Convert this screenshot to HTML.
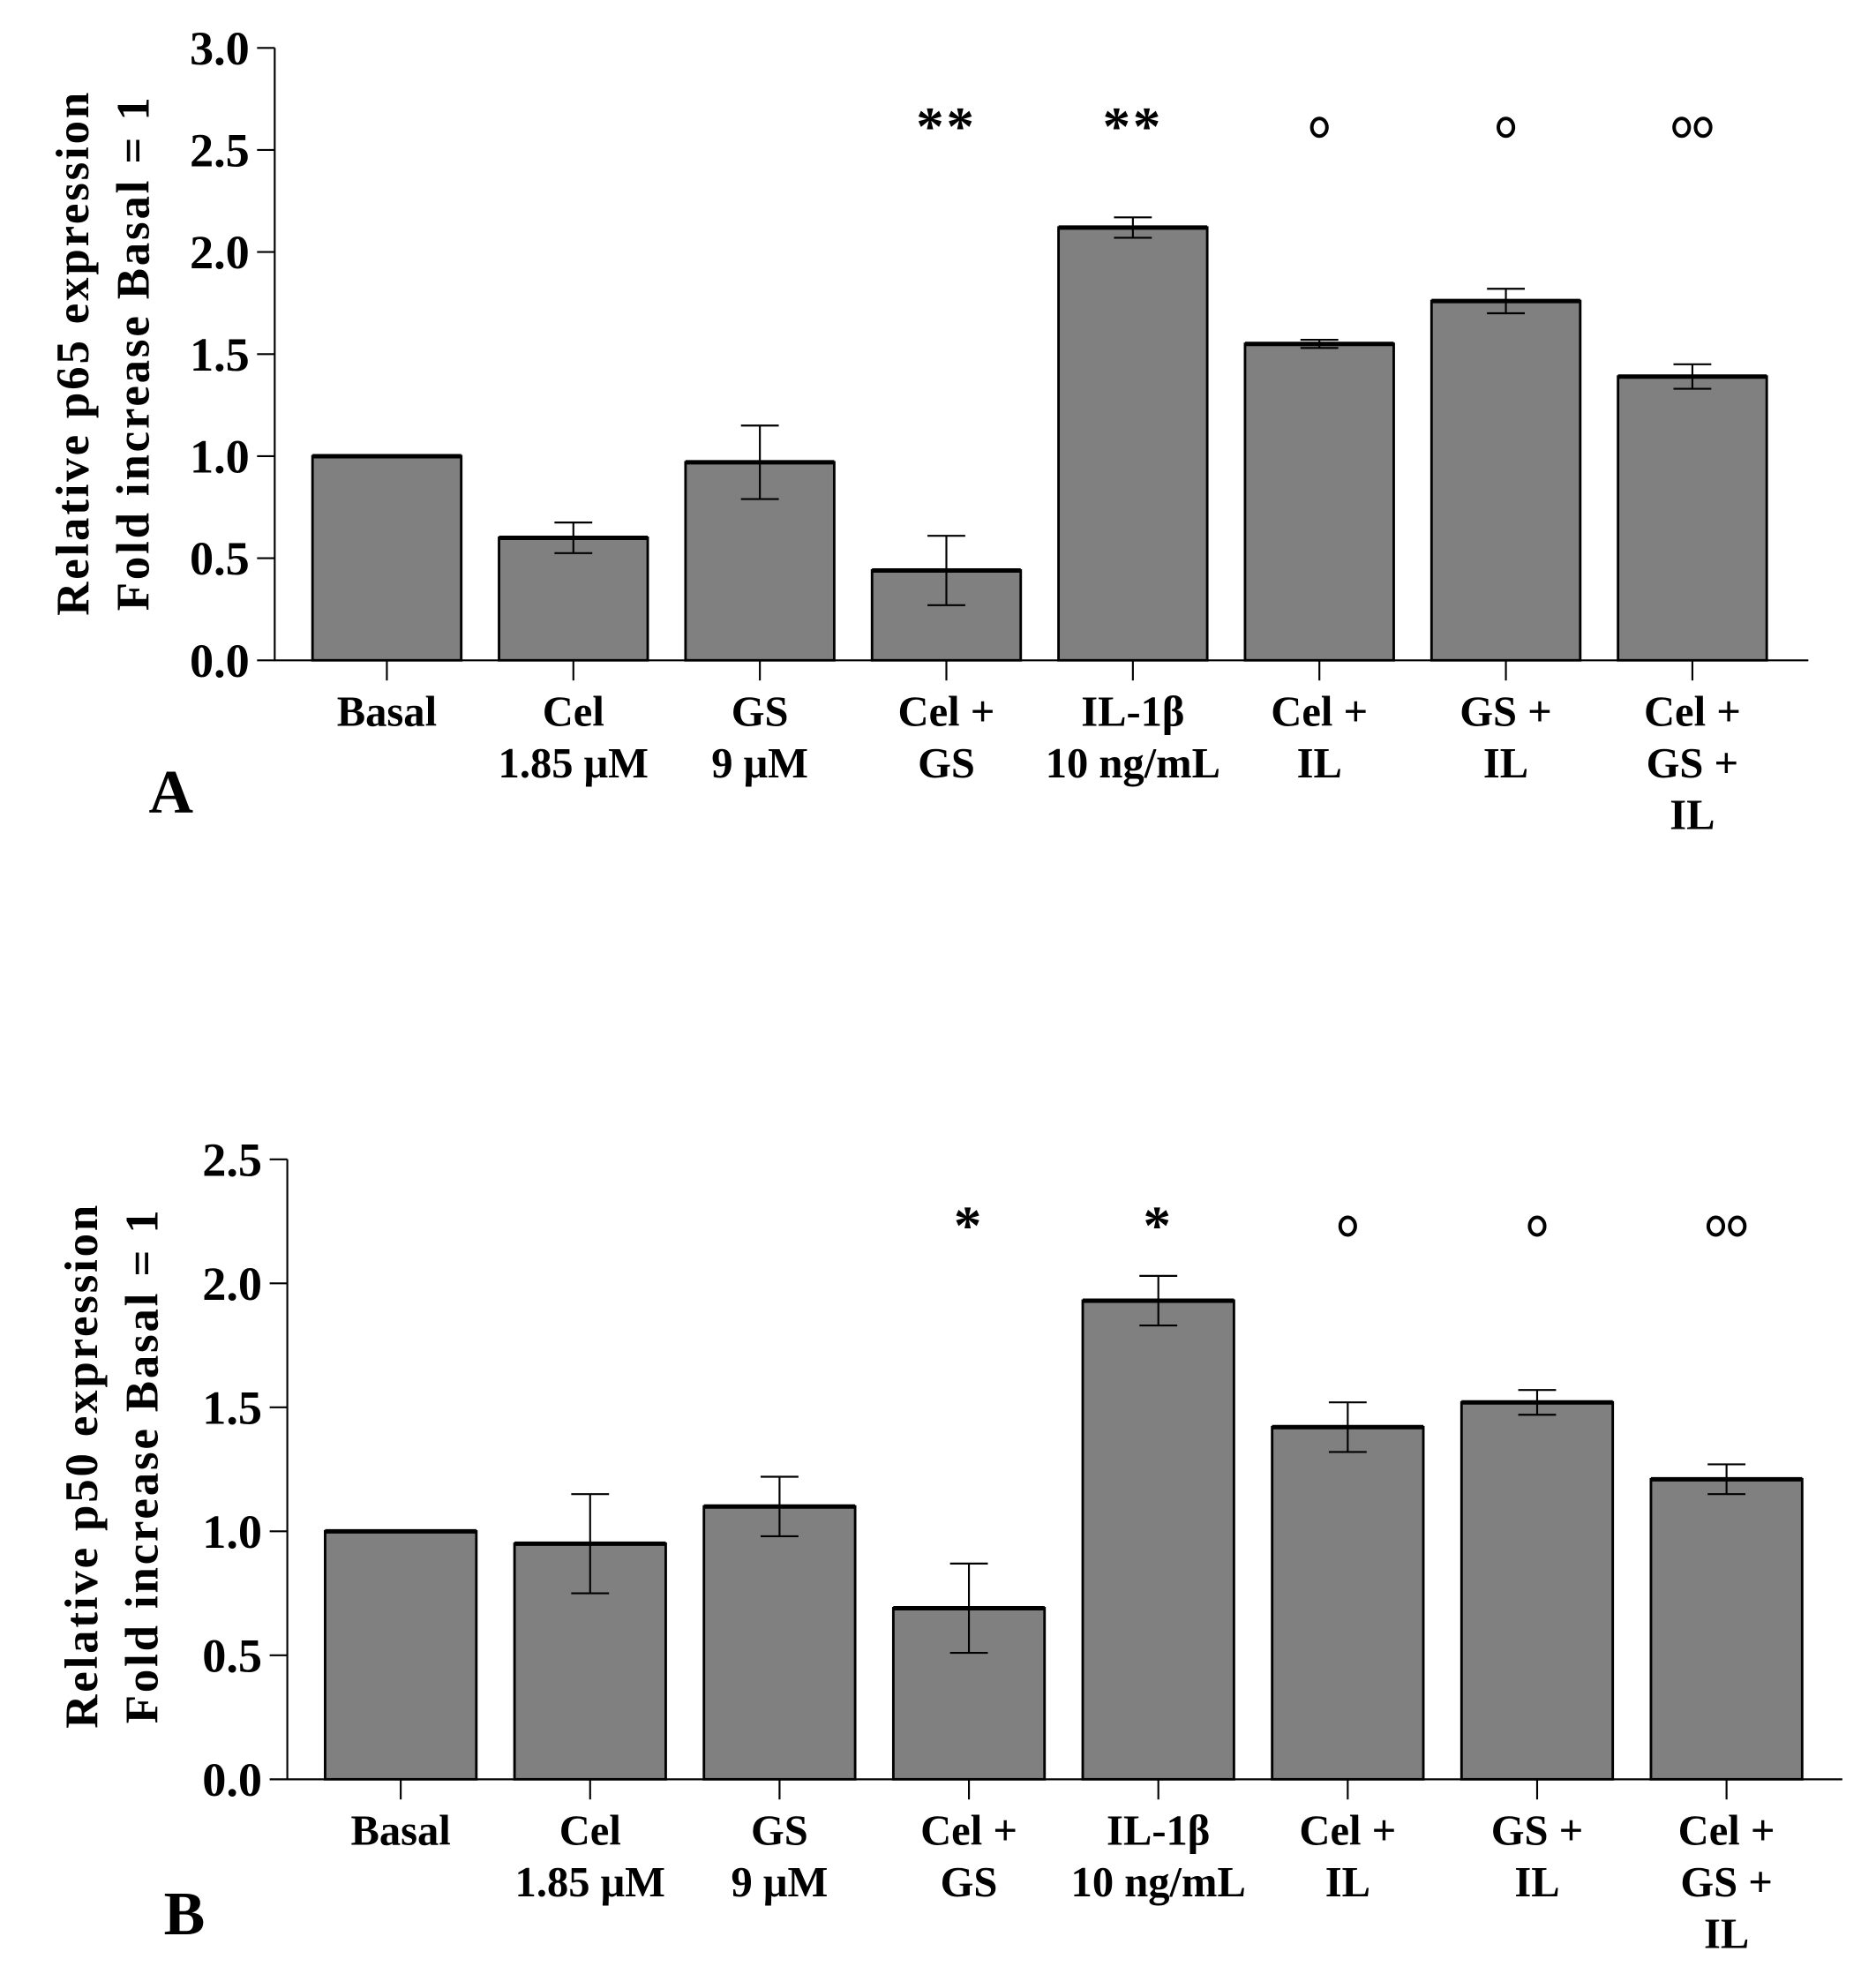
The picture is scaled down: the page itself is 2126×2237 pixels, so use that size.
<!DOCTYPE html>
<html><head><meta charset="utf-8"><style>
html,body{margin:0;padding:0;background:#fff}
svg{display:block}
text{font-family:"Liberation Serif",serif;font-weight:bold;fill:#000}
</style></head><body>
<svg id="fig" xmlns="http://www.w3.org/2000/svg" width="2126" height="2237" viewBox="0 0 1488.7 1566.5" preserveAspectRatio="none">
<rect x="0" y="0" width="1500" height="1600" fill="#fff"/>
</svg>
<script>
const categories = [["Basal"],["Cel","1.85 μM"],["GS","9 μM"],["Cel +","GS"],["IL-1β","10 ng/mL"],["Cel +","IL"],["GS +","IL"],["Cel +","GS +","IL"]];
const p65Values = [1.0, 0.6, 0.97, 0.44, 2.12, 1.55, 1.76, 1.39];
const p65Errors = [0, 0.075, 0.18, 0.17, 0.05, 0.02, 0.06, 0.06];
const p65Marks = ["", "", "", "**", "**", "o", "o", "oo"];
const p65Ticks = ["0.0","0.5","1.0","1.5","2.0","2.5","3.0"];
const p50Values = [1.0, 0.95, 1.1, 0.69, 1.93, 1.42, 1.52, 1.21];
const p50Errors = [0, 0.2, 0.12, 0.18, 0.1, 0.1, 0.05, 0.06];
const p50Marks = ["", "", "", "*", "*", "o", "o", "oo"];
const p50Ticks = ["0.0","0.5","1.0","1.5","2.0","2.5"];

const NS = "http://www.w3.org/2000/svg";
const svg = document.getElementById('fig');
function mk(tag, attrs, parent){const e=document.createElementNS(NS,tag);for(const k in attrs)e.setAttribute(k,attrs[k]);parent.appendChild(e);return e;}

function drawChart(cfg){
  const g = mk('g',{},svg);
  
  
  const ymax = parseFloat(cfg.ticks[cfg.ticks.length-1]);
  const y = v => cfg.bottom - (v/ymax)*(cfg.bottom-cfg.top);
  const n = cfg.values.length;
  const xl = i => cfg.firstLeft + i*cfg.pitch;
  for(let i=0;i<n;i++){
    const r = mk('rect',{x:xl(i),y:y(cfg.values[i]),width:cfg.barW,height:cfg.bottom-y(cfg.values[i]),fill:'#808080',stroke:'#000','stroke-width':2},g);
    
    
    mk('line',{x1:xl(i),x2:xl(i)+cfg.barW,y1:y(cfg.values[i]),y2:y(cfg.values[i]),stroke:'#000','stroke-width':3.5},g);
    const cx = xl(i)+cfg.barW/2;
    const e = cfg.errors[i];
    if(e>0){
      const eb = mk('path',{d:`M${cx} ${y(cfg.values[i]+e)}V${y(cfg.values[i]-e)}M${cx-15} ${y(cfg.values[i]+e)}H${cx+15}M${cx-15} ${y(cfg.values[i]-e)}H${cx+15}`,stroke:'#000','stroke-width':1.5,fill:'none'},g);
      
      
    }
    const m = cfg.marks[i];
    if(m && m.includes('*')){
      const t = mk('text',{x:cx,y:cfg.markY+14,'text-anchor':'middle','font-size':44,'letter-spacing':2,'font-weight':'normal'},g);
      t.textContent = m;
      
      
    } else if(m){
      const k = m.length;
      for(let j=0;j<k;j++){
        const c = mk('ellipse',{cx:cx+(j-(k-1)/2)*17,cy:cfg.markY,rx:6,ry:7,fill:'none',stroke:'#000','stroke-width':2.8},g);
        
        
      }
    }
    mk('line',{x1:cx,x2:cx,y1:cfg.bottom,y2:cfg.bottom+16,stroke:'#000','stroke-width':1.5},g);
    const lab = mk('text',{x:cx,'text-anchor':'middle','font-size':34},g);
    
    
    categories[i].forEach((s,k)=>{const ts=mk('tspan',{x:cx,y:cfg.labelY+k*41},lab);ts.textContent=s;});
  }
  const ax = mk('path',{d:`M${cfg.axisX} ${cfg.top}V${cfg.bottom}H${cfg.right}`,stroke:'#000','stroke-width':1.5,fill:'none'},g);
  
  
  cfg.ticks.forEach(tk=>{
    const v=parseFloat(tk);
    mk('line',{x1:cfg.axisX-14,x2:cfg.axisX,y1:y(v),y2:y(v),stroke:'#000','stroke-width':1.5},g);
    const t=mk('text',{x:cfg.axisX-20,y:y(v)+13,'text-anchor':'end','font-size':38},g);
    t.textContent=tk;
    
    
  });
  const yt = mk('text',{transform:`translate(${cfg.titleX},${cfg.titleCY}) rotate(-90)`,'text-anchor':'middle','font-size':37,'letter-spacing':2},g);
  
  
  const t1=mk('tspan',{x:0,y:0},yt);t1.textContent=cfg.title1;
  const t2=mk('tspan',{x:0,y:48},yt);t2.textContent='Fold increase Basal = 1';
  const pl = mk('text',{x:cfg.letterX,y:cfg.letterY,'font-size':49},g);
  pl.textContent=cfg.letter;
  
  
}

drawChart({name:'chart-p65',values:p65Values,errors:p65Errors,marks:p65Marks,ticks:p65Ticks,
  top:38,bottom:524,axisX:218,right:1435,firstLeft:248,pitch:148,barW:118,markY:101,labelY:576,
  titleX:70,titleCY:280,title1:'Relative p65 expression',letter:'A',letterX:118,letterY:645});
drawChart({name:'chart-p50',values:p50Values,errors:p50Errors,marks:p50Marks,ticks:p50Ticks,
  top:920,bottom:1412,axisX:228,right:1462,firstLeft:258,pitch:150.3,barW:120,markY:973,labelY:1464,
  titleX:77,titleCY:1163,title1:'Relative p50 expression',letter:'B',letterX:130,letterY:1535});
</script>
</body></html>
